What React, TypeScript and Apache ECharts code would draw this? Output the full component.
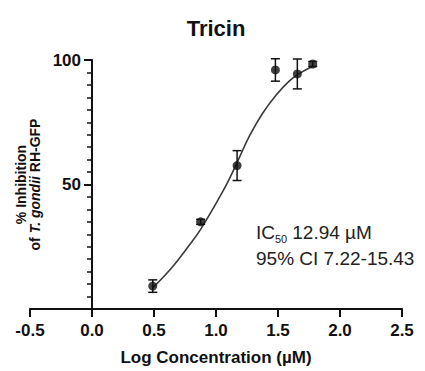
import React, { useEffect, useRef } from "react";
import * as echarts from "echarts";

const FONT = "'Liberation Sans', Arial, sans-serif";

// Measured points: log concentration (µM), mean % inhibition, SD
const logConc = [0.49, 0.876, 1.17, 1.479, 1.656, 1.78];
const inhibition = [9.2, 35, 57.6, 96, 94.4, 98.4];
const errors = [2.5, 1, 6, 4.5, 6, 1];

// Fitted curve
const curveX = [0.49, 0.65, 0.79, 0.876, 1.03, 1.11, 1.19, 1.27, 1.375, 1.487, 1.59, 1.67, 1.78];
const curveY = [8.5, 17, 26, 32, 45, 52.5, 61, 69.5, 78.5, 86, 91.5, 94.5, 97.5];

const xTicks = [-0.5, 0, 0.5, 1, 1.5, 2, 2.5];
const yTicks = [0, 50, 100];

export default function App() {
  const ref = useRef<HTMLDivElement>(null);
  useEffect(() => {
    if (!ref.current) return;
    const chart = echarts.init(ref.current, null, { renderer: "svg" });
    const points = logConc.map((x, i) => [x, inhibition[i]]);
    const errData = logConc.map((x, i) => [x, inhibition[i], errors[i]]);
    const curve = curveX.map((x, i) => [x, curveY[i]]);
    chart.setOption({
      animation: false,
      backgroundColor: "#fff",
      grid: { left: 30, right: 23, top: 60, bottom: 62, outerBoundsMode: "none" },
      xAxis: {
        type: "value",
        min: xTicks[0],
        max: xTicks[xTicks.length - 1],
        interval: 0.5,
        splitLine: { show: false },
        axisLine: { onZero: false, lineStyle: { color: "#111", width: 2 } },
        axisTick: { show: true, length: 8, lineStyle: { color: "#111", width: 2 } },
        axisLabel: {
          margin: 13,
          color: "#111",
          fontFamily: FONT,
          fontWeight: "bold",
          fontSize: 17,
          formatter: (v: number) => v.toFixed(1),
        },
        name: "Log Concentration (µM)",
        nameLocation: "middle",
        nameGap: 40,
        nameTextStyle: { color: "#111", fontFamily: FONT, fontWeight: "bold", fontSize: 17 },
      },
      yAxis: {
        type: "value",
        min: yTicks[0],
        max: yTicks[yTicks.length - 1],
        interval: 50,
        offset: -62,
        splitLine: { show: false },
        axisLine: { show: true, onZero: false, lineStyle: { color: "#111", width: 2 } },
        axisTick: { show: true, length: 8, lineStyle: { color: "#111", width: 2 } },
        minorTick: { show: true, splitNumber: 10, length: 5, lineStyle: { color: "#111", width: 1.5 } },
        axisLabel: {
          margin: 11,
          color: "#111",
          fontFamily: FONT,
          fontWeight: "bold",
          fontSize: 17,
          formatter: (v: number) => (v === 0 ? "" : String(v)),
        },
        name: "{b|% Inhibition}\n{b|of }{i|T. gondii}{b| RH-GFP}",
        nameLocation: "middle",
        nameRotate: 90,
        nameGap: 44,
        nameTextStyle: {
          color: "#111",
          lineHeight: 14,
          rich: {
            b: { fontFamily: FONT, fontWeight: "bold", fontSize: 14, color: "#111", lineHeight: 14 },
            i: { fontFamily: FONT, fontWeight: "bold", fontStyle: "italic", fontSize: 14, color: "#111", lineHeight: 14 },
          },
        },
      },
      graphic: [
        {
          type: "text",
          x: 216,
          y: 28,
          style: {
            text: "Tricin",
            font: `bold 22px ${FONT}`,
            fill: "#111",
            align: "center",
            verticalAlign: "middle",
          },
        },
        {
          type: "text",
          x: 256,
          y: 232,
          style: { text: "IC", font: `19px ${FONT}`, fill: "#222", verticalAlign: "middle" },
        },
        {
          type: "text",
          x: 275,
          y: 239,
          style: { text: "50", font: `11px ${FONT}`, fill: "#222", verticalAlign: "middle" },
        },
        {
          type: "text",
          x: 287,
          y: 232,
          style: { text: " 12.94 µM", font: `19px ${FONT}`, fill: "#222", verticalAlign: "middle" },
        },
        {
          type: "text",
          x: 256,
          y: 258,
          style: { text: "95% CI 7.22-15.43", font: `19px ${FONT}`, fill: "#222", verticalAlign: "middle" },
        },
      ],
      series: [
        {
          type: "line",
          data: curve,
          smooth: 0.4,
          showSymbol: false,
          symbol: "none",
          lineStyle: { color: "#3a3a3a", width: 1.6 },
          z: 2,
        },
        {
          type: "custom",
          data: errData,
          z: 3,
          renderItem: (params: any, api: any) => {
            const x = api.value(0);
            const y = api.value(1);
            const e = api.value(2);
            const top = api.coord([x, y + e]);
            const bot = api.coord([x, y - e]);
            const cap = 4.5;
            const style = { stroke: "#111", lineWidth: 1.5 };
            return {
              type: "group",
              children: [
                { type: "line", shape: { x1: top[0], y1: top[1], x2: bot[0], y2: bot[1] }, style },
                { type: "line", shape: { x1: top[0] - cap, y1: top[1], x2: top[0] + cap, y2: top[1] }, style },
                { type: "line", shape: { x1: bot[0] - cap, y1: bot[1], x2: bot[0] + cap, y2: bot[1] }, style },
              ],
            };
          },
        },
        {
          type: "scatter",
          data: points,
          symbol: "circle",
          symbolSize: 9,
          itemStyle: { color: "#111" },
          z: 4,
        },
      ],
    });
    return () => chart.dispose();
  }, []);
  return <div ref={ref} style={{ position: "fixed", left: 0, top: 0, width: 425, height: 371 }} />;
}
